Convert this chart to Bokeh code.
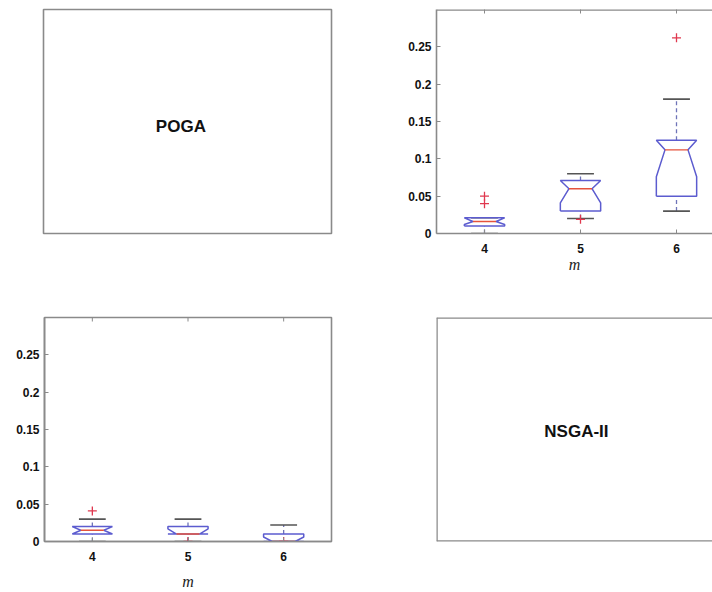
import math
from bokeh.plotting import figure
from bokeh.models import Label, LinearAxis, FixedTicker, NumeralTickFormatter, Range1d, Span
from bokeh.layouts import column, row
from bokeh.embed import file_html
from bokeh.resources import INLINE

# ---------------- data ----------------
m_values = [4, 5, 6]
x_ticks = [4, 5, 6]
y_ticks = [0, 0.05, 0.1, 0.15, 0.2, 0.25]
y_max = 0.3

# upper-right panel
tr_q1 = [0.010, 0.030, 0.050]
tr_med = [0.016, 0.060, 0.112]
tr_q3 = [0.021, 0.071, 0.125]
tr_nlo = [0.012, 0.041, 0.076]
tr_nhi = [0.021, 0.071, 0.125]
tr_wlo = [0.000, 0.020, 0.030]
tr_whi = [0.021, 0.080, 0.180]
tr_out_m = [4, 4, 5, 6]
tr_out_v = [0.040, 0.050, 0.019, 0.262]

# lower-left panel
bl_q1 = [0.010, 0.010, 0.000]
bl_med = [0.015, 0.010, 0.000]
bl_q3 = [0.020, 0.020, 0.010]
bl_nlo = [0.010, 0.010, 0.000]
bl_nhi = [0.020, 0.017, 0.006]
bl_wlo = [0.000, 0.000, 0.000]
bl_whi = [0.030, 0.030, 0.022]
bl_out_m = [4, 5, 6]
bl_out_v = [0.041, 0.000, 0.000]

# ---------------- style ----------------
FRAME = "#8a8a8a"
BOX = "#5c5ccf"
MED = "#e5533d"
OUT = "#e0384f"
CAP = "#555555"
WHISK = "#6f74b8"
LABEL_FONT = "Liberation Sans"
HW = 0.21      # box half width
NW = 0.12      # notch half width
CW = 0.14      # cap half width


def style_axis(ax, ticks):
    ax.ticker = FixedTicker(ticks=ticks)
    ax.axis_line_color = FRAME
    ax.axis_line_width = 1.6
    ax.major_tick_in = 4
    ax.major_tick_out = 0
    ax.minor_tick_line_color = None
    ax.major_tick_line_color = FRAME
    ax.major_label_text_font = LABEL_FONT
    ax.major_label_text_font_style = "bold"
    ax.major_label_text_font_size = "12px"
    ax.major_label_text_color = "#111111"


def base_fig(w, h, bl, br, bt, bb, xr, yr):
    p = figure(width=w, height=h, output_backend="svg", toolbar_location=None,
               x_range=Range1d(*xr), y_range=Range1d(*yr),
               x_axis_type=None, y_axis_type=None,
               min_border_left=bl, min_border_right=br,
               min_border_top=bt, min_border_bottom=bb)
    p.grid.visible = False
    p.background_fill_color = "white"
    p.border_fill_color = "white"
    return p


def text_panel(txt, w, h, bl, br, bt, bb, full_outline, tx, ty):
    p = base_fig(w, h, bl, br, bt, bb, (0, 1), (0, 1))
    if full_outline:
        p.outline_line_color = FRAME
        p.outline_line_width = 1.6
    else:
        p.outline_line_color = None
        p.add_layout(Span(location=0, dimension="height", line_color=FRAME, line_width=2.5))
        p.add_layout(Span(location=0, dimension="width", line_color=FRAME, line_width=2.5))
        p.add_layout(Span(location=1, dimension="width", line_color=FRAME, line_width=2.5))
    p.add_layout(Label(x=tx, y=ty, text=txt, text_align="center", text_baseline="middle",
                       text_font=LABEL_FONT, text_font_style="bold",
                       text_font_size="17px", text_color="#111111"))
    return p


def box_panel(w, h, bl, br, bt, bb, xr, q1, med, q3, nlo, nhi, wlo, whi, om, ov,
              full_outline, tick_standoff, xlabel_standoff):
    p = base_fig(w, h, bl, br, bt, bb, xr, (0, y_max))
    if full_outline:
        p.outline_line_color = FRAME
        p.outline_line_width = 1.6
    else:
        p.outline_line_color = None
        p.add_layout(Span(location=y_max, dimension="width", line_color=FRAME, line_width=2.5))

    yax = LinearAxis(formatter=NumeralTickFormatter(format="0.[00]"))
    style_axis(yax, y_ticks)
    yax.major_label_standoff = 5
    p.add_layout(yax, "left")

    xax = LinearAxis(axis_label="m")
    style_axis(xax, x_ticks)
    xax.major_label_standoff = tick_standoff
    xax.axis_label_text_font = "Liberation Serif"
    xax.axis_label_text_font_style = "italic"
    xax.axis_label_text_font_size = "16px"
    xax.axis_label_text_color = "#222222"
    xax.axis_label_standoff = xlabel_standoff
    p.add_layout(xax, "below")

    # inward ticks on the top edge
    p.scatter(x=x_ticks, y=[y_max] * len(x_ticks), marker="dash", angle=math.pi / 2,
              size=8, line_color=FRAME, line_width=1)

    # notched box outlines (MATLAB-style polygon)
    xs, ys = [], []
    for x, a, md, b, nl, nh in zip(m_values, q1, med, q3, nlo, nhi):
        xs.append([x - HW, x - HW, x - NW, x - HW, x - HW, x + HW, x + HW, x + NW, x + HW, x + HW, x - HW])
        ys.append([a, nl, md, nh, b, b, nh, md, nl, a, a])

    # whiskers
    wx0 = m_values + m_values
    wy0 = list(q3) + list(wlo)
    wy1 = list(whi) + list(q1)
    p.segment(x0=wx0, y0=wy0, x1=wx0, y1=wy1, line_color=WHISK, line_width=1.3, line_dash="4 3")
    # caps
    cx0 = [x - CW for x in m_values] * 2
    cx1 = [x + CW for x in m_values] * 2
    cy = list(whi) + list(wlo)
    p.segment(x0=cx0, y0=cy, x1=cx1, y1=cy, line_color=CAP, line_width=1.6)

    p.multi_line(xs=xs, ys=ys, line_color=BOX, line_width=1.5)
    # medians
    p.segment(x0=[x - NW for x in m_values], y0=med, x1=[x + NW for x in m_values], y1=med,
              line_color=MED, line_width=1.4)
    # outliers
    p.scatter(x=om, y=ov, marker="cross", size=9, line_color=OUT, line_width=1.3)
    return p


p_tl = text_panel("POGA", 400, 290, 43, 69, 9, 57, True, 0.477, 0.479)
p_tr = box_panel(312, 290, 36, 0, 9, 56, (3.5, 6.375),
                 tr_q1, tr_med, tr_q3, tr_nlo, tr_nhi, tr_wlo, tr_whi, tr_out_m, tr_out_v,
                 False, 10, 0)
p_bl = box_panel(400, 302, 44, 69, 26, 51, (3.5, 6.5),
                 bl_q1, bl_med, bl_q3, bl_nlo, bl_nhi, bl_wlo, bl_whi, bl_out_m, bl_out_v,
                 True, 10, 9)
p_br = text_panel("NSGA-II", 312, 302, 36, 0, 27, 50, False, 0.507, 0.49)

layout = column(row(p_tl, p_tr, spacing=0), row(p_bl, p_br, spacing=0), spacing=0)

open("out.html", "w").write(file_html(layout, INLINE))
